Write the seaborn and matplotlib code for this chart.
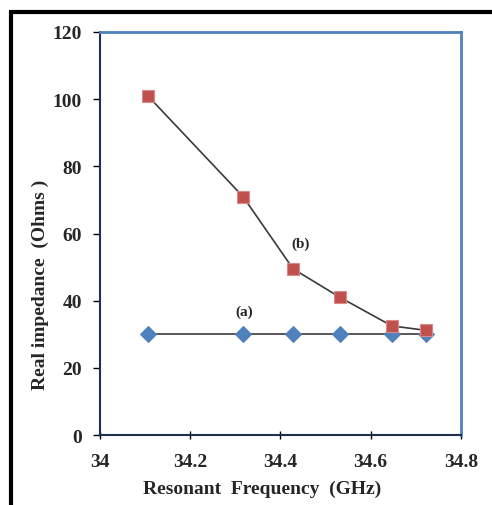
import matplotlib
matplotlib.use("Agg")
import matplotlib.pyplot as plt
import seaborn as sns
import pandas as pd
from matplotlib.patches import Rectangle

freq = [34.106, 34.317, 34.428, 34.532, 34.647, 34.722]
imp_a = [30, 30, 30, 30, 30, 30]
imp_b = [101, 71, 49.5, 41, 32.5, 31.2]
x_ticks = [34, 34.2, 34.4, 34.6, 34.8]
y_ticks = [0, 20, 40, 60, 80, 100, 120]

df = pd.DataFrame({"freq": freq, "a": imp_a, "b": imp_b})

sns.set_style("white")
plt.rcParams['font.family'] = ['Liberation Serif', 'DejaVu Serif']
plt.rcParams['font.weight'] = 'bold'

fig = plt.figure(figsize=(4.92, 5.06), dpi=100)
ax = fig.add_axes([0.203, 0.138, 0.734, 0.797])

sns.lineplot(data=df, x="freq", y="a", ax=ax, color="#3a3a3a", lw=1.2,
             marker="D", markersize=8, markerfacecolor="#4F81BD",
             markeredgecolor="#4F81BD", zorder=3)
sns.lineplot(data=df, x="freq", y="b", ax=ax, color="#3a3a3a", lw=1.2,
             marker="s", markersize=9, markerfacecolor="#C0504D",
             markeredgecolor="#D88A88", markeredgewidth=0.8, zorder=4)

ax.set_xlim(34, 34.8)
ax.set_ylim(0, 120)
ax.set_xticks(x_ticks)
ax.set_xticklabels(["34", "34.2", "34.4", "34.6", "34.8"])
ax.set_yticks(y_ticks)
for lab in ax.get_xticklabels() + ax.get_yticklabels():
    lab.set_fontweight('bold')
    lab.set_fontsize(14)
ax.tick_params(axis='x', direction='inout', length=6, width=1, color='black', pad=10)
ax.tick_params(axis='y', direction='out', length=5, width=1, color='black', pad=8)
ax.tick_params(bottom=True, left=True)

for s in ax.spines.values():
    s.set_color("#4F81BD")
    s.set_linewidth(2)
ax.spines['left'].set_color("#1f2f4f")
ax.spines['left'].set_linewidth(1.5)
ax.spines['bottom'].set_color("#1f2f4f")
ax.spines['bottom'].set_linewidth(1.5)

ax.set_xlabel("Resonant  Frequency  (GHz)", fontsize=14, fontweight='bold')
ax.set_ylabel("Real impedance  (Ohms )", fontsize=14, fontweight='bold')
ax.xaxis.set_label_coords(0.449, -0.131)
ax.yaxis.set_label_coords(-0.166, 0.375)
ax.xaxis.label.set_va('center')
ax.yaxis.label.set_va('center')

ax.text(34.445, 57, "(b)", fontsize=11, fontweight='bold', ha='center', va='center')
ax.text(34.32, 37, "(a)", fontsize=11, fontweight='bold', ha='center', va='center')

fig.patches.append(Rectangle((11/492, -0.2), 1.2, 1 - 13/506 + 0.2,
                             transform=fig.transFigure, fill=False,
                             edgecolor='black', lw=3))

fig.savefig("out.png", dpi=100)
